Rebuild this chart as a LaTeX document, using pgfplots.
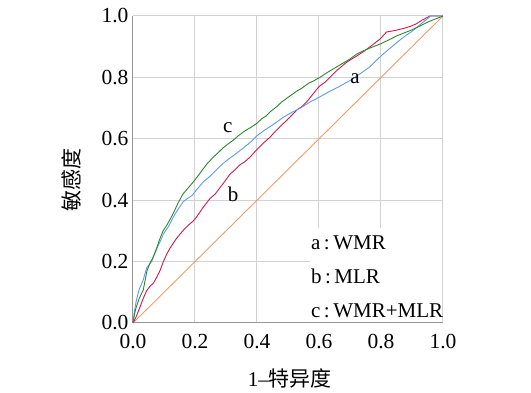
\documentclass[border=0pt]{standalone}
\usepackage{fontspec}
\setmainfont{Liberation Serif}
\usepackage{pgfplots}
\pgfplotsset{compat=1.18}
\newfontfamily\cjk{Noto Sans CJK SC}
\definecolor{cgreen}{RGB}{45,135,50}
\definecolor{cblue}{RGB}{95,155,230}
\definecolor{cred}{RGB}{210,25,75}
\definecolor{corange}{RGB}{240,155,105}
\definecolor{caxis}{RGB}{150,150,150}
\definecolor{cgrid}{RGB}{210,210,210}
\begin{document}
\begin{tikzpicture}
\path[use as bounding box] (-133pt,-70pt) rectangle (398pt,323pt);
\begin{axis}[
  at={(0,0)}, anchor=south west, scale only axis,
  width=310pt, height=307pt,
  xmin=0, xmax=1, ymin=0, ymax=1,
  xtick={0,0.2,0.4,0.6,0.8,1}, ytick={0,0.2,0.4,0.6,0.8,1},
  tick label style={font=\fontsize{21.5}{24}\selectfont, /pgf/number format/assume math mode=true, /pgf/number format/fixed, /pgf/number format/fixed zerofill, /pgf/number format/precision=1},
  xticklabel style={yshift=-8pt},
  yticklabel style={xshift=-1pt},
  major tick length=0pt,
  axis x line*=bottom, axis y line*=left,
  axis line style={caxis, line width=1pt, -},
  grid=major, grid style={cgrid, line width=1pt},
  xlabel={\fontsize{21}{24}\selectfont 1--{\cjk 特异度}},
  ylabel={\fontsize{21}{24}\selectfont {\cjk 敏感度}},
  xlabel style={at={(axis description cs:0.506,-0.18)}, anchor=center},
  ylabel style={at={(axis description cs:-0.197,0.465)}, anchor=center, rotate=0},
  clip=false,
]
\addplot[corange, line width=0.9pt] coordinates {(0,0) (1,1)};
\addplot[cred, line width=0.9pt] coordinates {
(0,0) (0.01,0.02) (0.023,0.053) (0.035,0.085) (0.044,0.105) (0.055,0.12) (0.066,0.13) (0.077,0.15) (0.087,0.17) (0.098,0.2) (0.109,0.225) (0.12,0.245) (0.13,0.26) (0.14,0.275) (0.152,0.29) (0.165,0.305) (0.18,0.32) (0.192,0.33) (0.205,0.345) (0.225,0.375) (0.248,0.405) (0.265,0.42) (0.28,0.44) (0.295,0.46) (0.313,0.485) (0.33,0.5) (0.345,0.515) (0.36,0.525) (0.377,0.54) (0.395,0.56) (0.41,0.575) (0.425,0.59) (0.442,0.605) (0.455,0.62) (0.47,0.635) (0.485,0.65) (0.496,0.66) (0.515,0.68) (0.53,0.695) (0.545,0.705) (0.56,0.72) (0.58,0.745) (0.6,0.77) (0.62,0.785) (0.635,0.80) (0.66,0.825) (0.69,0.85) (0.722,0.87) (0.745,0.885) (0.765,0.90) (0.797,0.925) (0.818,0.948) (0.835,0.951) (0.85,0.954) (0.875,0.96) (0.894,0.966) (0.915,0.975) (0.93,0.985) (0.958,1.0) (1,1)};
\addplot[cblue, line width=0.9pt] coordinates {
(0,0) (0.005,0.04) (0.01,0.07) (0.02,0.11) (0.033,0.14) (0.044,0.18) (0.06,0.2) (0.07,0.225) (0.08,0.25) (0.09,0.27) (0.098,0.29) (0.115,0.315) (0.13,0.345) (0.145,0.37) (0.162,0.395) (0.175,0.405) (0.19,0.415) (0.21,0.44) (0.227,0.46) (0.245,0.475) (0.26,0.49) (0.275,0.505) (0.291,0.52) (0.31,0.535) (0.33,0.55) (0.356,0.57) (0.38,0.59) (0.40,0.61) (0.42,0.625) (0.45,0.645) (0.485,0.67) (0.51,0.685) (0.54,0.70) (0.571,0.72) (0.6,0.735) (0.635,0.755) (0.665,0.77) (0.70,0.79) (0.73,0.81) (0.765,0.835) (0.8,0.87) (0.835,0.9) (0.871,0.93) (0.9,0.95) (0.93,0.975) (0.96,1.0) (1,1)};
\addplot[cgreen, line width=0.9pt] coordinates {
(0,0) (0.005,0.03) (0.01,0.05) (0.02,0.08) (0.033,0.107) (0.045,0.17) (0.055,0.195) (0.065,0.215) (0.075,0.24) (0.085,0.27) (0.097,0.3) (0.11,0.32) (0.129,0.355) (0.145,0.39) (0.161,0.42) (0.178,0.44) (0.195,0.46) (0.21,0.48) (0.225,0.5) (0.24,0.52) (0.259,0.54) (0.275,0.555) (0.29,0.57) (0.305,0.582) (0.324,0.596) (0.34,0.61) (0.36,0.625) (0.38,0.637) (0.399,0.65) (0.415,0.665) (0.43,0.675) (0.445,0.69) (0.464,0.705) (0.48,0.72) (0.5,0.735) (0.528,0.755) (0.545,0.765) (0.565,0.78) (0.585,0.79) (0.603,0.80) (0.625,0.815) (0.65,0.83) (0.675,0.845) (0.7,0.86) (0.72,0.875) (0.74,0.885) (0.77,0.898) (0.8,0.91) (0.825,0.922) (0.85,0.935) (0.875,0.945) (0.9,0.955) (0.925,0.967) (0.95,0.98) (0.975,0.99) (1,1)};
\node[font=\fontsize{21}{24}\selectfont] at (axis cs:0.716,0.795) {a};
\node[font=\fontsize{21}{24}\selectfont] at (axis cs:0.323,0.42) {b};
\node[font=\fontsize{21}{24}\selectfont] at (axis cs:0.306,0.635) {c};
\fill[white] (axis cs:0.571,0.003) rectangle (axis cs:0.997,0.309);
\node[anchor=base west, font=\fontsize{21}{24}\selectfont, inner sep=0pt] at (axis cs:0.574,0.238) {a\,:\,WMR};
\node[anchor=base west, font=\fontsize{21}{24}\selectfont, inner sep=0pt] at (axis cs:0.574,0.130) {b\,:\,MLR};
\node[anchor=base west, font=\fontsize{21}{24}\selectfont, inner sep=0pt] at (axis cs:0.574,0.0195) {c\,:\,WMR+MLR};
\end{axis}
\end{tikzpicture}
\end{document}
